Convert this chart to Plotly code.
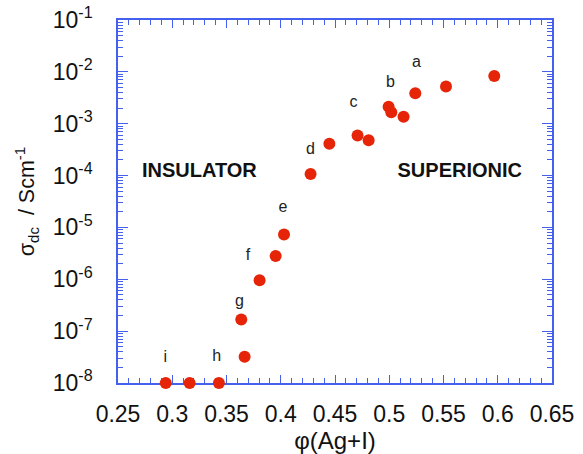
import plotly.graph_objects as go
import numpy as np

# data
phi = [0.294, 0.316, 0.343, 0.3667, 0.3636, 0.3805, 0.3953, 0.403, 0.4275,
       0.4448, 0.4708, 0.481, 0.4994, 0.5019, 0.5132, 0.524, 0.5523, 0.5968]
sigma = [1e-8, 1e-8, 1e-8, 3.2e-8, 1.67e-7, 9.6e-7, 2.8e-6, 7.3e-6, 1.07e-4,
         4.1e-4, 5.9e-4, 4.8e-4, 2.13e-3, 1.66e-3, 1.36e-3, 3.86e-3, 5.2e-3, 8.3e-3]

label_text = ["a", "b", "c", "d", "e", "f", "g", "h", "i"]
label_x = [0.525, 0.501, 0.467, 0.4273, 0.402, 0.3698, 0.362, 0.341, 0.2936]
label_y = [1.5e-2, 6.0e-3, 2.5e-3, 3.1e-4, 2.4e-5, 2.8e-6, 3.7e-7, 3.2e-8, 3.0e-8]

region_text = ["INSULATOR", "SUPERIONIC"]
region_x = [0.325, 0.565]
region_y = [1.15e-4, 1.15e-4]

x_ticks = [0.25, 0.3, 0.35, 0.4, 0.45, 0.5, 0.55, 0.6, 0.65]
x_ticklabels = ["0.25", "0.3", "0.35", "0.4", "0.45", "0.5", "0.55", "0.6", "0.65"]
y_exps = [-8, -7, -6, -5, -4, -3, -2, -1]

BLUE = "#4660ee"
RED = "#e62408"
FONT = "Liberation Sans, Arial, sans-serif"

y_tickvals = [10.0 ** e for e in y_exps]
y_ticktext = ["10<sup>%d</sup>" % e for e in y_exps]
y_minor = [m * 10.0 ** e for e in y_exps[:-1] for m in range(2, 10)]
x_minor = [round(v, 2) for v in np.arange(0.25, 0.6501, 0.01)]

fig = go.Figure()
fig.add_trace(go.Scatter(
    x=phi, y=sigma, mode="markers",
    marker=dict(color=RED, size=12, line=dict(width=0)),
    cliponaxis=False, showlegend=False,
))
fig.add_trace(go.Scatter(
    x=label_x, y=label_y, mode="text", text=label_text,
    textfont=dict(family=FONT, size=16, color="#222222"),
    cliponaxis=False, showlegend=False,
))
fig.add_trace(go.Scatter(
    x=region_x, y=region_y, mode="text", text=["<b>%s</b>" % t for t in region_text],
    textfont=dict(family=FONT, size=20, color="#111111"),
    cliponaxis=False, showlegend=False,
))

axis_common = dict(
    showline=True, linecolor=BLUE, linewidth=1.5, mirror="allticks",
    ticks="inside", tickcolor=BLUE, tickwidth=1.2,
    showgrid=False, zeroline=False, layer="below traces", automargin=False,
    ticklabeloverflow="allow",
    tickfont=dict(family=FONT, size=23, color="#111111"),
)

fig.update_xaxes(
    **axis_common, range=[0.25, 0.65], tickvals=x_ticks, ticktext=x_ticklabels,
    ticklen=8, ticklabelstandoff=10,
    minor=dict(tickvals=x_minor, ticks="inside", ticklen=5, tickcolor=BLUE, tickwidth=1.2),
    title=dict(text="φ(Ag+I)", font=dict(family=FONT, size=24, color="#111111"), standoff=0),
)
fig.update_yaxes(
    **axis_common, type="log", range=[-8, -1], tickvals=y_tickvals, ticktext=y_ticktext,
    ticklen=10, ticklabelstandoff=19,
    minor=dict(tickvals=y_minor, ticks="inside", ticklen=5, tickcolor=BLUE, tickwidth=1.2),
    title=dict(text="σ<sub>dc</sub>  / Scm<sup>-1</sup>",
               font=dict(family=FONT, size=21.5, color="#111111"), standoff=12),
)

fig.update_layout(
    width=583, height=454,
    margin=dict(l=118, r=31, t=20, b=71),
    plot_bgcolor="white", paper_bgcolor="white",
)

# remove the default page-body margin so the figure fills the window exactly
fig.write_html("out.html", config={"displayModeBar": False},
               post_script="document.body.style.margin='0';")
